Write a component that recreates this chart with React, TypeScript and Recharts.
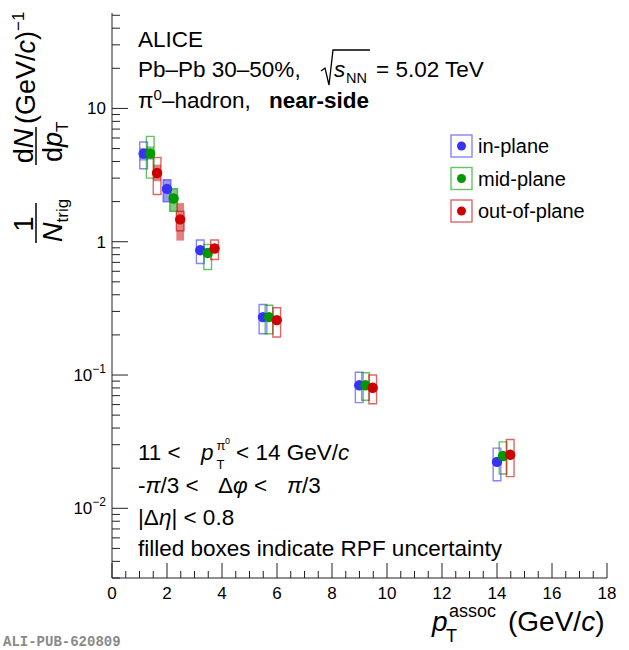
import React from 'react';
import { ComposedChart, Scatter, XAxis, YAxis, ReferenceArea } from 'recharts';

const FONT = '"Liberation Sans", Arial, Helvetica, sans-serif';
const AXIS = '#222';

// pT assoc (GeV/c), the three planes are shifted a bit in x
const inPlaneX = [1.15, 2.0, 3.21, 5.49, 8.99, 14.0];
const inPlaneY = [4.58, 2.49, 0.864, 0.272, 0.0837, 0.0223];
const inPlaneSysLo = [3.53, 1.99, 0.686, 0.204, 0.0621, 0.0161];
const inPlaneSysHi = [5.6, 2.92, 1.03, 0.338, 0.105, 0.0283];
const inPlaneRpfLo = [4.06, 1.99, 0.83, 0.262, 0.0805, 0.0215];
const inPlaneRpfHi = [5.04, 2.92, 0.9, 0.282, 0.087, 0.0231];

const midPlaneX = [1.39, 2.24, 3.48, 5.71, 9.22, 14.22];
const midPlaneY = [4.58, 2.11, 0.824, 0.272, 0.0837, 0.0247];
const midPlaneSysLo = [3.0, 1.69, 0.619, 0.204, 0.0646, 0.0181];
const midPlaneSysHi = [6.17, 2.5, 0.953, 0.334, 0.104, 0.0315];
const midPlaneRpfLo = [4.13, 1.69, 0.79, 0.262, 0.0805, 0.0238];
const midPlaneRpfHi = [5.19, 2.5, 0.86, 0.282, 0.087, 0.0256];

const outPlaneX = [1.64, 2.48, 3.73, 5.99, 9.48, 14.48];
const outPlaneY = [3.28, 1.47, 0.889, 0.258, 0.0803, 0.0252];
const outPlaneSysLo = [2.26, 1.21, 0.736, 0.193, 0.0609, 0.0173];
const outPlaneSysHi = [4.29, 1.69, 1.03, 0.32, 0.0999, 0.0328];
const outPlaneRpfLo = [2.84, 1.02, 0.855, 0.248, 0.0772, 0.0243];
const outPlaneRpfHi = [3.79, 1.95, 0.925, 0.268, 0.0835, 0.0261];

const X_TICKS = Array.from({ length: 37 }, (_, i) => i * 0.5);
const Y_TICKS = [
    0.003, 0.004, 0.005, 0.006, 0.007, 0.008, 0.009,
    0.01, 0.02, 0.03, 0.04, 0.05, 0.06, 0.07, 0.08, 0.09,
    0.1, 0.2, 0.3, 0.4, 0.5, 0.6, 0.7, 0.8, 0.9,
    1, 2, 3, 4, 5, 6, 7, 8, 9,
    10, 20, 30, 40, 50,
];
const Y_LABELS: Record<string, [string, string]> = {
    '0.01': ['10', '\u22122'],
    '0.1': ['10', '\u22121'],
    '1': ['1', ''],
    '10': ['10', ''],
};

const SERIES = [
    { name: 'in-plane', color: '#3434f2', x: inPlaneX, y: inPlaneY, sysLo: inPlaneSysLo, sysHi: inPlaneSysHi, rpfLo: inPlaneRpfLo, rpfHi: inPlaneRpfHi },
    { name: 'mid-plane', color: '#009a00', x: midPlaneX, y: midPlaneY, sysLo: midPlaneSysLo, sysHi: midPlaneSysHi, rpfLo: midPlaneRpfLo, rpfHi: midPlaneRpfHi },
    { name: 'out-of-plane', color: '#cc0000', x: outPlaneX, y: outPlaneY, sysLo: outPlaneSysLo, sysHi: outPlaneSysHi, rpfLo: outPlaneRpfLo, rpfHi: outPlaneRpfHi },
];

const BOX_HW = 0.14;
const TXT = 22.5;
const isMajorX = (v: number) => Math.abs(v % 2) < 1e-6;
const isMajorY = (v: number) => Y_LABELS[String(v)] !== undefined;

const XTickBottom = (p: any) => {
    const v = p.payload.value;
    const major = isMajorX(v);
    return (
        <g>
            <line x1={p.x} x2={p.x} y1={p.y} y2={p.y - (major ? 15 : 7)} stroke={AXIS} />
            {major && (
                <text x={p.x} y={p.y + 21} textAnchor="middle" fontSize={17} fontFamily={FONT} fill="#000">{v}</text>
            )}
        </g>
    );
};

const XTickTop = (p: any) => {
    const major = isMajorX(p.payload.value);
    return <line x1={p.x} x2={p.x} y1={p.y} y2={p.y + (major ? 15 : 7)} stroke={AXIS} />;
};

const YTickLeft = (p: any) => {
    const v = p.payload.value;
    const lab = Y_LABELS[String(v)];
    return (
        <g>
            <line x1={p.x} x2={p.x + (lab ? 16 : 8)} y1={p.y} y2={p.y} stroke={AXIS} />
            {lab && (
                <text x={p.x - 6} y={p.y + 6} textAnchor="end" fontSize={17} fontFamily={FONT} fill="#000">
                    {lab[0]}
                    {lab[1] && <tspan dy={-8} fontSize={12}>{lab[1]}</tspan>}
                </text>
            )}
        </g>
    );
};

const YTickRight = (p: any) => {
    const major = isMajorY(p.payload.value);
    return <line x1={p.x} x2={p.x - (major ? 16 : 8)} y1={p.y} y2={p.y} stroke={AXIS} />;
};

const rot = (x: number, y: number) => `translate(${x},${y}) rotate(-90)`;

const Annotations = () => (
    <svg width={629} height={650} style={{ position: 'absolute', left: 0, top: 0, pointerEvents: 'none' }} fontFamily={FONT}>
        {/* y title */}
        <g fill="#000">
            <text transform={rot(33, 224)} textAnchor="middle" fontSize={27}>1</text>
            <line x1={36} x2={36} y1={203} y2={243} stroke="#000" strokeWidth={1.5} />
            <text transform={rot(62, 242)} fontSize={27}>
                <tspan fontStyle="italic">N</tspan>
                <tspan fontSize={17} dy={6}>trig</tspan>
            </text>
            <text transform={rot(33, 146)} textAnchor="middle" fontSize={27}>
                d<tspan fontStyle="italic">N</tspan>
            </text>
            <line x1={36} x2={36} y1={127} y2={165} stroke="#000" strokeWidth={1.5} />
            <text transform={rot(62, 162)} fontSize={27}>
                d<tspan fontStyle="italic">p</tspan>
                <tspan fontSize={17} dy={6}>T</tspan>
            </text>
            <text transform={rot(35, 124)} fontSize={27}>
                (GeV/<tspan fontStyle="italic">c</tspan>)
                <tspan fontSize={17} dy={-11}>{'\u22121'}</tspan>
            </text>
        </g>

        {/* x title */}
        <text x={432} y={631} fontSize={28} fontStyle="italic">p</text>
        <text x={446} y={642} fontSize={18}>T</text>
        <text x={449} y={617} fontSize={18}>assoc</text>
        <text x={508} y={631} fontSize={28}>
            (GeV/<tspan fontStyle="italic">c</tspan>)
        </text>

        {/* header */}
        <text x={138} y={47} fontSize={TXT}>ALICE</text>
        <text x={138} y={77} fontSize={TXT}>Pb–Pb 30–50%,</text>
        <path d="M 321 71 L 325 68 L 329 85 L 333 50 L 370 50" fill="none" stroke="#000" strokeWidth={1.3} />
        <text x={334} y={77} fontSize={TXT} fontStyle="italic">s</text>
        <text x={346} y={83} fontSize={14.5}>NN</text>
        <text x={376} y={77} fontSize={TXT}>= 5.02 TeV</text>
        <text x={138} y={108} fontSize={TXT}>
            π<tspan fontSize={15} dy={-8}>0</tspan>
            <tspan dy={8}>–hadron,</tspan>
        </text>
        <text x={269} y={108} fontSize={TXT} fontWeight="bold">near-side</text>

        {/* legend */}
        {SERIES.map((s, i) => (
            <g key={s.name}>
                <rect x={451} y={135 + i * 32.5} width={21} height={22} fill="none" stroke={s.color} strokeOpacity={0.6} strokeWidth={1.4} />
                <circle cx={461.5} cy={146 + i * 32.5} r={4.5} fill={s.color} />
                <text x={478} y={153 + i * 32.5} fontSize={20}>{s.name}</text>
            </g>
        ))}

        {/* selection text */}
        <text x={138} y={460} fontSize={TXT}>11 &lt;</text>
        <text x={201} y={460} fontSize={TXT} fontStyle="italic">p</text>
        <text x={216.5} y={469} fontSize={13}>T</text>
        <text x={216.5} y={450} fontSize={13}>π</text>
        <text x={225} y={444} fontSize={9}>0</text>
        <text x={236} y={460} fontSize={TXT}>
            &lt; 14 GeV/<tspan fontStyle="italic">c</tspan>
        </text>
        <text x={138} y={493} fontSize={TXT}>
            -<tspan fontStyle="italic">π</tspan>/3 &lt;
        </text>
        <text x={218} y={493} fontSize={TXT}>
            Δ<tspan fontStyle="italic">φ</tspan> &lt;
        </text>
        <text x={287} y={493} fontSize={TXT}>
            <tspan fontStyle="italic">π</tspan>/3
        </text>
        <text x={138} y={525} fontSize={TXT}>
            |Δ<tspan fontStyle="italic">η</tspan>| &lt; 0.8
        </text>
        <text x={138} y={556} fontSize={TXT}>filled boxes indicate RPF uncertainty</text>

        <text x={3} y={646} fontSize={14} fontWeight="bold" fill="#8a8a8a" fontFamily='"Liberation Mono", "DejaVu Sans Mono", monospace'>
            ALI-PUB-620809
        </text>
    </svg>
);

export default function App() {
    return (
        <div style={{ position: 'relative', width: 629, height: 650 }}>
            <style>{'body{margin:0}'}</style>
            <ComposedChart width={629} height={650} margin={{ top: 13, right: 22, bottom: 42, left: 52 }}>
                <XAxis
                    xAxisId="b" dataKey="x" type="number" domain={[0, 18]} ticks={X_TICKS} interval={0}
                    height={30} tickSize={0} tickMargin={0} tickLine={false}
                    axisLine={{ stroke: AXIS }} tick={(p: any) => <XTickBottom {...p} />}
                    allowDataOverflow
                />
                <XAxis
                    xAxisId="t" orientation="top" dataKey="x" type="number" domain={[0, 18]} ticks={X_TICKS} interval={0}
                    height={0} tickSize={0} tickMargin={0} tickLine={false}
                    axisLine={{ stroke: AXIS }} tick={(p: any) => <XTickTop {...p} />}
                    allowDataOverflow
                />
                <YAxis
                    yAxisId="l" type="number" scale="log" domain={[0.003, 52]} ticks={Y_TICKS} interval={0}
                    width={60} tickSize={0} tickMargin={0} tickLine={false}
                    axisLine={{ stroke: AXIS }} tick={(p: any) => <YTickLeft {...p} />}
                    allowDataOverflow
                />
                <YAxis
                    yAxisId="r" orientation="right" type="number" scale="log" domain={[0.003, 52]} ticks={Y_TICKS} interval={0}
                    width={0} tickSize={0} tickMargin={0} tickLine={false}
                    axisLine={{ stroke: AXIS }} tick={(p: any) => <YTickRight {...p} />}
                    allowDataOverflow
                />

                {/* RPF uncertainty (filled) */}
                {SERIES.map(s => s.x.map((xv, i) => (
                    <ReferenceArea
                        key={`rpf-${s.name}-${i}`}
                        xAxisId="b" yAxisId="l"
                        x1={xv - BOX_HW} x2={xv + BOX_HW} y1={s.rpfLo[i]} y2={s.rpfHi[i]}
                        fill={s.color} fillOpacity={0.5} stroke="none"
                    />
                )))}
                {/* systematic uncertainty (open) */}
                {SERIES.map(s => s.x.map((xv, i) => (
                    <ReferenceArea
                        key={`sys-${s.name}-${i}`}
                        xAxisId="b" yAxisId="l"
                        x1={xv - BOX_HW} x2={xv + BOX_HW} y1={s.sysLo[i]} y2={s.sysHi[i]}
                        fill="none" fillOpacity={0} stroke={s.color} strokeOpacity={0.6} strokeWidth={1.4}
                    />
                )))}

                {SERIES.map(s => (
                    <Scatter
                        key={s.name}
                        name={s.name}
                        xAxisId="b" yAxisId="l"
                        data={s.x.map((xv, i) => ({ x: xv, y: s.y[i] }))}
                        dataKey="y"
                        isAnimationActive={false}
                        shape={(p: any) => <circle cx={p.cx} cy={p.cy} r={5.2} fill={s.color} />}
                    />
                ))}
            </ComposedChart>
            <Annotations />
        </div>
    );
}
